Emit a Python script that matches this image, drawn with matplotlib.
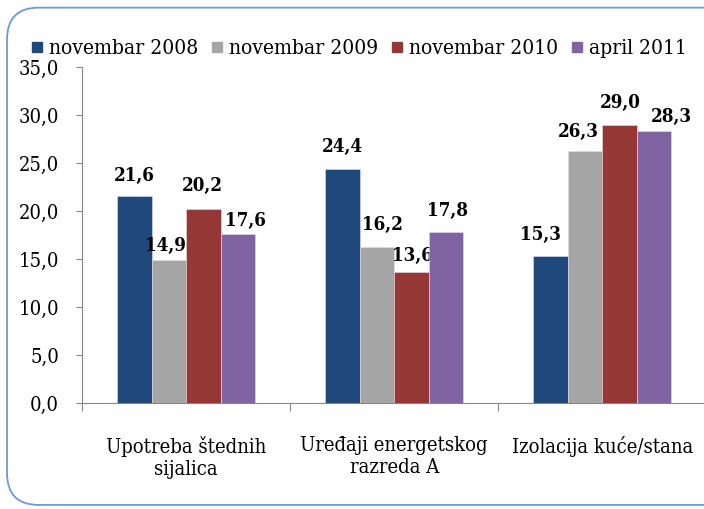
import matplotlib
matplotlib.use('Agg')
from matplotlib import pyplot as plt
from matplotlib.patches import FancyBboxPatch
from matplotlib.lines import Line2D
import numpy as np

# --- DATA ------------------------------------------------------------+
categories = ['Upotreba štednih\nsijalica', 'Uređaji energetskog\nrazreda A', 'Izolacija kuće/stana']
series_names = ['novembar 2008', 'novembar 2009', 'novembar 2010', 'april 2011']
nov2008 = [21.6, 24.4, 15.3]
nov2009 = [14.9, 16.2, 26.3]
nov2010 = [20.2, 13.6, 29.0]
apr2011 = [17.6, 17.8, 28.3]
colors = ['#1F497D', '#A5A5A5', '#953735', '#8064A2']
yticks = [0, 5, 10, 15, 20, 25, 30, 35]

# label nudges (pixels) per series / category, as placed in the original
label_dx = [[0, 0, -10], [-3, 5, -7], [-1, 1, 1], [8, 1, 17]]
label_dy = [[20, 22, 21], [14, 22, 19], [23, 16, 22], [13, 21, 14]]

FONT = dict(family='DejaVu Serif', stretch='condensed')

fig = plt.figure(figsize=(7.04, 5.09), dpi=100)
ax = fig.add_axes([0.1165, 0.2083, 0.887, 0.6601])

# rounded frame round the chart
frame = FancyBboxPatch((0.010, 0.008), 1.05, 0.977, boxstyle='round,pad=0,rounding_size=0.045',
                       transform=fig.transFigure, facecolor='none', edgecolor='#6A9BD8',
                       linewidth=1.3, zorder=0, mutation_aspect=704 / 509)
fig.patches.append(frame)

x = np.arange(len(categories))
w = 0.166
all_series = [nov2008, nov2009, nov2010, apr2011]
for i, vals in enumerate(all_series):
    pos = x + (i - 1.5) * w
    ax.bar(pos, vals, width=w, color=colors[i], edgecolor='#DDE3EE', linewidth=0.4, zorder=3)
    for j, (px, v) in enumerate(zip(pos, vals)):
        ax.annotate(('%.1f' % v).replace('.', ','), (px, v),
                    xytext=(label_dx[i][j], label_dy[i][j]), textcoords='offset pixels',
                    ha='center', va='center', fontsize=13.5, fontweight='bold', **FONT)

ax.set_xlim(-0.5, 2.5)
ax.set_ylim(0, 35)
ax.set_yticks(yticks)
ax.set_yticklabels([('%.1f' % t).replace('.', ',') for t in yticks], fontsize=14.5, **FONT)
ax.set_xticks([-0.5, 0.5, 1.5, 2.5])
ax.set_xticklabels([])
ax.set_xticks(x, minor=True)
ax.set_xticklabels(categories, minor=True, fontsize=14.5, linespacing=1.2, **FONT)
ax.tick_params(axis='x', which='minor', length=0, pad=24)
ax.tick_params(axis='x', which='major', length=6, color='#868686')
ax.tick_params(axis='y', length=4.5, color='#868686', pad=12)

for s in ['top', 'right']:
    ax.spines[s].set_visible(False)
ax.spines['left'].set_color('#868686')
ax.spines['bottom'].set_color('#868686')

handles = [Line2D([], [], marker='s', linestyle='none', markersize=7.5, color=c) for c in colors]
fig.legend(handles, series_names, loc='center', bbox_to_anchor=(0.51, 0.905), ncol=4,
           frameon=False, handlelength=0.5, handletextpad=0.34, columnspacing=0.64,
           prop=dict(size=15, **FONT))

plt.savefig('out.png', dpi=100)
